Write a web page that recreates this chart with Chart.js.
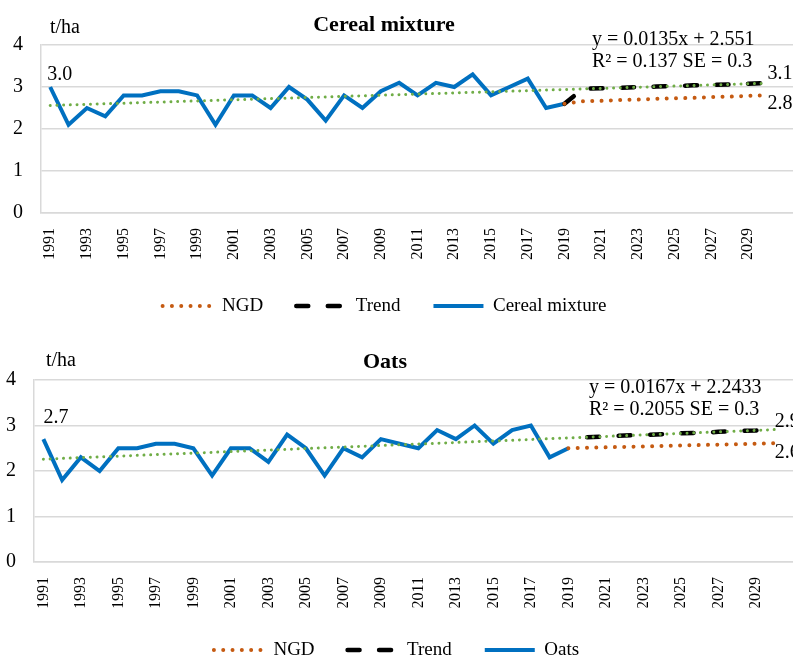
<!DOCTYPE html>
<html>
<head>
<meta charset="utf-8">
<title>Cereal mixture and Oats</title>
<script src="https://cdn.jsdelivr.net/npm/chart.js@4.4.1/dist/chart.umd.min.js"></script>
<style>
  html, body { margin: 0; padding: 0; background: #fff; overflow: hidden; }
  body { width: 793px; height: 663px; position: relative; }
  #wrap1 { position: absolute; left: -24px; top: 0; width: 817px; height: 336px; }
  #wrap2 { position: absolute; left: 0; top: 336px; width: 793px; height: 340px; }
</style>
</head>
<body>
<div id="wrap1"><canvas id="cerealChart"></canvas></div>
<div id="wrap2"><canvas id="oatsChart"></canvas></div>
<script>
// years with observed yields, and the forecast years
const actualYears = [1991, 1992, 1993, 1994, 1995, 1996, 1997, 1998, 1999, 2000,
  2001, 2002, 2003, 2004, 2005, 2006, 2007, 2008, 2009, 2010,
  2011, 2012, 2013, 2014, 2015, 2016, 2017, 2018, 2019];
const forecastYears = [2019, 2020, 2021, 2022, 2023, 2024, 2025, 2026, 2027, 2028, 2029, 2030];
const fitYears = [1991, 2030];
const tickYears = [1991, 1993, 1995, 1997, 1999, 2001, 2003, 2005, 2007, 2009,
  2011, 2013, 2015, 2017, 2019, 2021, 2023, 2025, 2027, 2029];

// Cereal mixture, t/ha
const cerealValues = [3.0, 2.1, 2.5, 2.3, 2.8, 2.8, 2.9, 2.9, 2.8, 2.1,
  2.8, 2.8, 2.5, 3.0, 2.7, 2.2, 2.8, 2.5, 2.9, 3.1,
  2.8, 3.1, 3.0, 3.3, 2.8, 3.0, 3.2, 2.5, 2.6];
const cerealTrend = [2.6, 2.96, 2.97, 2.98, 3.00, 3.01, 3.02, 3.04, 3.05, 3.06, 3.08, 3.09];
const cerealNgd = [2.6, 2.66, 2.67, 2.69, 2.70, 2.72, 2.73, 2.74, 2.76, 2.77, 2.79, 2.80];
const cerealFit = [2.56, 3.09];

// Oats, t/ha
const oatsValues = [2.7, 1.8, 2.3, 2.0, 2.5, 2.5, 2.6, 2.6, 2.5, 1.9,
  2.5, 2.5, 2.2, 2.8, 2.5, 1.9, 2.5, 2.3, 2.7, 2.6,
  2.5, 2.9, 2.7, 3.0, 2.6, 2.9, 3.0, 2.3, 2.5];
const oatsTrend = [null, 2.74, 2.76, 2.78, 2.79, 2.81, 2.83, 2.84, 2.86, 2.88, 2.89, 2.91];
const oatsNgd = [2.5, 2.51, 2.52, 2.53, 2.54, 2.55, 2.56, 2.57, 2.58, 2.59, 2.60, 2.61];
const oatsFit = [2.26, 2.91];

Chart.defaults.font.family = '"Liberation Serif", "Times New Roman", serif';
Chart.defaults.color = '#000';

function pts(xs, ys) {
  return xs.map((x, i) => ({x: x, y: ys[i]}));
}

// legend entries take the line style of their dataset (dots, dashes)
function legendLabels(chart) {
  const items = Chart.defaults.plugins.legend.labels.generateLabels(chart);
  return items.filter(item => item.datasetIndex > 0).map(item => {
    const ds = chart.data.datasets[item.datasetIndex];
    item.lineDash = ds.borderDash || [];
    item.lineCap = ds.borderCapStyle || 'butt';
    item.lineWidth = ds.borderWidth;
    item.strokeStyle = ds.borderColor;
    return item;
  });
}

// titles, unit, equation and value labels
const chartText = {
  id: 'chartText',
  afterDraw(chart, args, o) {
    const ctx = chart.ctx;
    const xs = chart.scales.x, ys = chart.scales.y;
    ctx.save();
    ctx.fillStyle = '#000';
    ctx.textBaseline = 'alphabetic';
    ctx.font = 'bold 22px "Liberation Serif"';
    ctx.textAlign = 'center';
    ctx.fillText(o.title, o.titleX, o.titleY);
    ctx.font = '20px "Liberation Serif"';
    ctx.textAlign = 'left';
    ctx.fillText('t/ha', o.unitX, o.unitY);
    o.equation.forEach((line, i) => ctx.fillText(line, o.eqX, o.eqY + i * 22));
    o.labels.forEach(p => {
      ctx.fillText(p.value.toFixed(1), xs.getPixelForValue(p.year) + p.dx, ys.getPixelForValue(p.value) + p.dy);
    });
    ctx.restore();
  }
};

function drawYieldChart(canvas, s) {
  const data = {
    datasets: [{
      label: 'fit',
      data: pts(fitYears, s.fit),
      borderColor: '#70AD47',
      borderWidth: 3,
      borderDash: [0.01, 6.7],
      borderCapStyle: 'round',
      order: 0
    }, {
      label: 'NGD',
      data: pts(forecastYears, s.ngd),
      borderColor: '#C55A11',
      borderWidth: 4,
      borderDash: [0.01, 9.3],
      borderCapStyle: 'round',
      order: 1
    }, {
      label: 'Trend',
      data: pts(forecastYears, s.trend),
      borderColor: '#000',
      borderWidth: 4.5,
      borderDash: [12, 19.5],
      borderCapStyle: 'round',
      order: 2
    }, {
      label: s.name,
      data: pts(actualYears, s.values),
      borderColor: '#0070C0',
      borderWidth: 4,
      order: 3
    }]
  };

  const thisconfig = {
    type: 'line',
    data: data,
    plugins: [chartText],
    options: {
      responsive: true,
      maintainAspectRatio: false,
      animation: false,
      events: [],
      layout: { padding: { top: s.padTop, bottom: s.padBottom, left: 0, right: 0 } },
      elements: { point: { radius: 0 }, line: { tension: 0 } },
      plugins: {
        tooltip: { enabled: false },
        title: { display: false },
        legend: {
          position: 'bottom',
          labels: {
            usePointStyle: true,
            pointStyle: 'line',
            pointStyleWidth: 50,
            padding: 33,
            color: '#000',
            font: { size: 19 },
            generateLabels: legendLabels
          }
        },
        chartText: s.text
      },
      scales: {
        x: {
          type: 'linear',
          min: s.xMin,
          max: s.xMax,
          afterBuildTicks: sc => { sc.ticks = tickYears.map(v => ({ value: v })); },
          afterFit: sc => { sc.height = s.xAxisHeight; },
          grid: { display: false, drawTicks: false },
          border: { display: true, color: '#d9d9d9', width: 1.5 },
          ticks: {
            autoSkip: false,
            minRotation: 90,
            maxRotation: 90,
            padding: 15,
            color: '#000',
            font: { size: 16 },
            callback: v => String(v)
          }
        },
        y: {
          min: 0,
          max: 4,
          afterFit: sc => { sc.width = s.yAxisWidth; },
          grid: { color: '#d9d9d9', lineWidth: 1.5, drawTicks: false },
          border: { display: true, color: '#d9d9d9', width: 1.5 },
          ticks: { stepSize: 1, padding: 18, color: '#000', font: { size: 20 } }
        }
      }
    }
  };

  return new Chart(canvas, thisconfig);
}

drawYieldChart(document.getElementById('cerealChart'), {
  name: 'Cereal mixture',
  values: cerealValues, trend: cerealTrend, ngd: cerealNgd, fit: cerealFit,
  xMin: 1990.5, xMax: 2031.44,
  yAxisWidth: 65, xAxisHeight: 50.5, padTop: 45, padBottom: 10.5,
  text: {
    title: 'Cereal mixture', titleX: 408, titleY: 31,
    unitX: 74, unitY: 33,
    equation: ['y = 0.0135x + 2.551', 'R\u00b2 = 0.137 SE = 0.3'], eqX: 616, eqY: 45,
    labels: [
      { year: 1991, value: cerealValues[0], dx: -3, dy: -7 },
      { year: 2030, value: cerealTrend[cerealTrend.length - 1], dx: 1, dy: -4 },
      { year: 2030, value: cerealNgd[cerealNgd.length - 1], dx: 1, dy: 14 }
    ]
  }
});

drawYieldChart(document.getElementById('oatsChart'), {
  name: 'Oats',
  values: oatsValues, trend: oatsTrend, ngd: oatsNgd, fit: oatsFit,
  xMin: 1990.5, xMax: 2030.98,
  yAxisWidth: 34, xAxisHeight: 45.5, padTop: 44, padBottom: 6.5,
  text: {
    title: 'Oats', titleX: 385, titleY: 32,
    unitX: 46, unitY: 30,
    equation: ['y = 0.0167x + 2.2433', 'R\u00b2 = 0.2055 SE = 0.3'], eqX: 589, eqY: 57,
    labels: [
      { year: 1991, value: oatsValues[0], dx: 0, dy: -16 },
      { year: 2030, value: oatsTrend[oatsTrend.length - 1], dx: 0, dy: -3 },
      { year: 2030, value: oatsNgd[oatsNgd.length - 1], dx: 0, dy: 15 }
    ]
  }
});
</script>
</body>
</html>
